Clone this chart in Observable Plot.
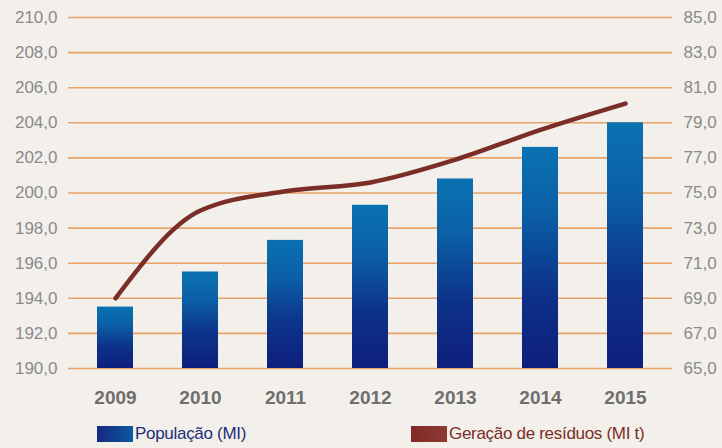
<!DOCTYPE html>
<html>
<head>
<meta charset="utf-8">
<script src="https://cdn.jsdelivr.net/npm/d3@7"></script>
<script src="https://cdn.jsdelivr.net/npm/@observablehq/plot@0.6"></script>
<style>
  html, body { margin: 0; padding: 0; background: #f3efea; }
  #wrap { position: relative; width: 722px; height: 448px; overflow: hidden; }
  .narrow { font-family: "Liberation Sans", Arial, sans-serif; }
  #legend { position: absolute; left: 0; top: 418px; width: 722px; height: 30px; font-size: 17px; }
  .sw { position: absolute; top: 8px; height: 16px; width: 36px; }
  .lt { position: absolute; top: 5px; line-height: 22px; white-space: nowrap; letter-spacing: -0.3px; }
</style>
</head>
<body>
<div id="wrap">
  <div id="chart"></div>
  <div id="legend" class="narrow"></div>
</div>
<script>
// ---- data ----
const years = ["2009", "2010", "2011", "2012", "2013", "2014", "2015"];
const population = [193.5, 195.5, 197.3, 199.3, 200.8, 202.6, 204.0];   // MI (left axis)
const waste = [69.0, 74.0, 75.1, 75.6, 76.9, 78.6, 80.1];                // MI t (right axis)
const leftTicks = [190, 192, 194, 196, 198, 200, 202, 204, 206, 208, 210];
const rightTicks = [65, 67, 69, 71, 73, 75, 77, 79, 81, 83, 85];
const seriesNames = ["População (MI)", "Geração de resíduos (MI t)"];

const offset = 190 - 65; // right axis maps onto left scale (both span 20 units)
const rows = years.map((y, i) => ({year: y, pop: population[i], waste: waste[i]}));
const fmt = v => d3.format(".1f")(v).replace(".", ",");

const W = 722, H = 418;
const chart = Plot.plot({
  width: W,
  height: H,
  marginLeft: 68,
  marginRight: 50,
  marginTop: 17,
  marginBottom: 50,
  style: {background: "transparent", fontFamily: '"Liberation Sans", Arial, sans-serif'},
  x: {domain: years, paddingInner: 0.58, paddingOuter: 0.33, label: null},
  y: {domain: [190, 210], label: null},
  marks: [
    Plot.ruleY(leftTicks, {stroke: "#e8a468", strokeWidth: 1.6}),
    Plot.barY(rows, {x: "year", y1: 190, y2: "pop", fill: "url(#barGrad)"}),
    Plot.line(rows, {x: "year", y: d => d.waste + offset, stroke: "#7a2e27", strokeWidth: 4.5,
      strokeLinecap: "round", curve: "monotone-x"}),
    Plot.axisY(leftTicks, {anchor: "left", tickSize: 0, tickPadding: 11, tickFormat: fmt,
      fill: "#8a8a8a", fontSize: 17, label: null}),
    Plot.axisY(rightTicks.map(t => t + offset), {anchor: "right", tickSize: 0, tickPadding: 11,
      tickFormat: v => fmt(v - offset), fill: "#8a8a8a", fontSize: 17, label: null}),
    Plot.axisX({anchor: "bottom", tickSize: 0, tickPadding: 22, fill: "#6e6e6e",
      fontSize: 19, fontWeight: "bold", label: null})
  ]
});

// gradient defs for bars
const NS = "http://www.w3.org/2000/svg";
const defs = document.createElementNS(NS, "defs");
function grad(id, x2, y2, stops) {
  const g = document.createElementNS(NS, "linearGradient");
  g.setAttribute("id", id);
  g.setAttribute("x1", "0"); g.setAttribute("y1", "0");
  g.setAttribute("x2", x2); g.setAttribute("y2", y2);
  stops.forEach(([o, c]) => {
    const s = document.createElementNS(NS, "stop");
    s.setAttribute("offset", o); s.setAttribute("stop-color", c);
    g.appendChild(s);
  });
  defs.appendChild(g);
}
grad("barGrad", "0", "1", [["0", "#0a72b2"], ["0.3", "#0b5fa6"], ["0.65", "#0d328a"], ["1", "#0e1f7c"]]);
chart.insertBefore(defs, chart.firstChild);
document.getElementById("chart").appendChild(chart);

// legend
const legend = document.getElementById("legend");
const items = [
  {name: seriesNames[0], left: 97, swatch: "linear-gradient(90deg, #14287e, #0d5aa3)", color: "#1c2f78"},
  {name: seriesNames[1], left: 411, swatch: "linear-gradient(90deg, #7e2a26, #8e3a34)", color: "#7a2e27"}
];
items.forEach(it => {
  const sw = document.createElement("div");
  sw.className = "sw"; sw.style.left = it.left + "px"; sw.style.background = it.swatch;
  const t = document.createElement("div");
  t.className = "lt"; t.style.left = (it.left + 38) + "px"; t.style.color = it.color;
  t.textContent = it.name;
  legend.appendChild(sw); legend.appendChild(t);
});
</script>
</body>
</html>
